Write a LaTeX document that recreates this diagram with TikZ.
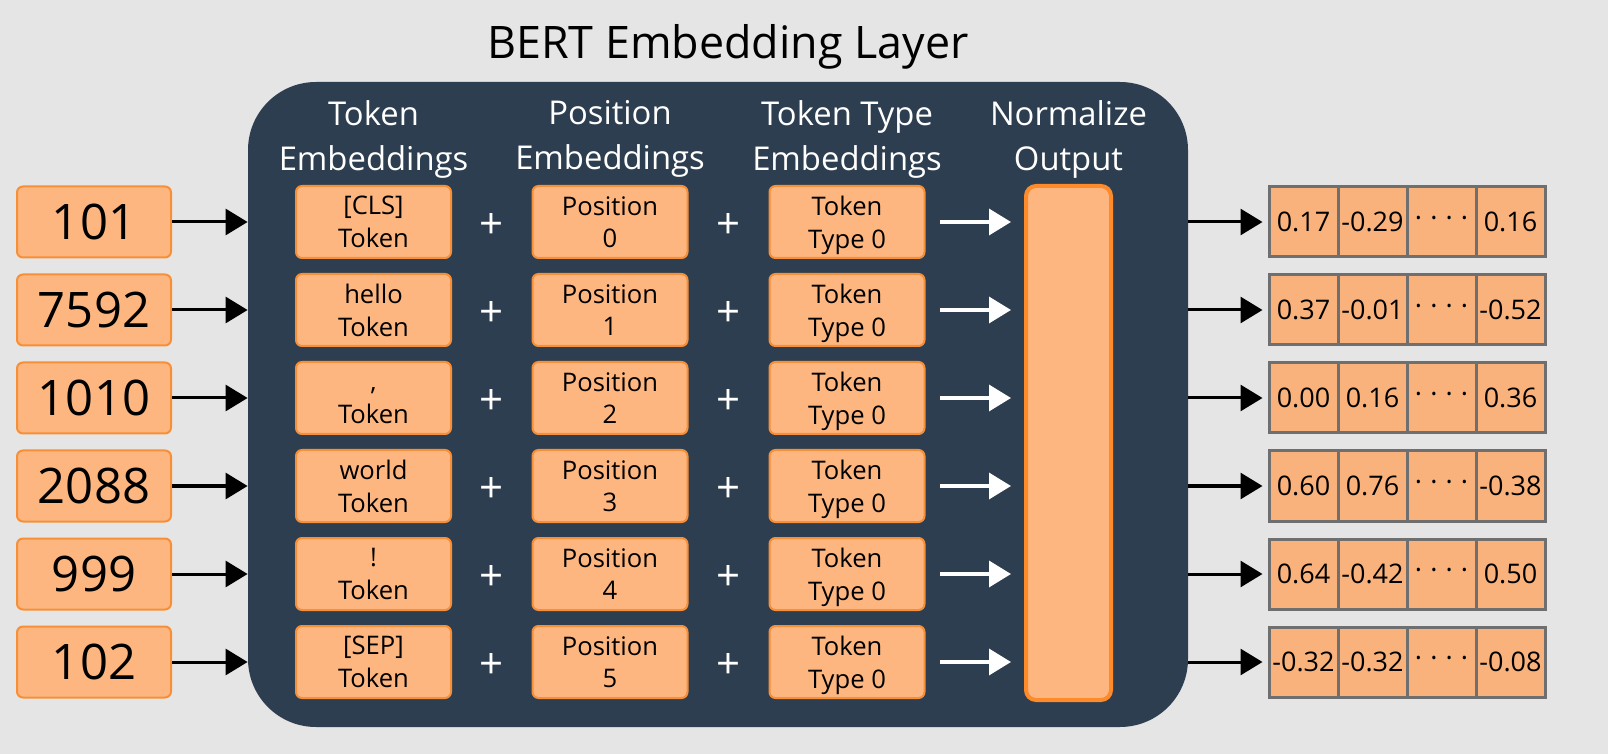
\documentclass[tikz,border=0pt]{standalone}
\usepackage{fontspec}
\setmainfont{Open Sans}
\usetikzlibrary{arrows.meta}
\definecolor{bgcol}{HTML}{E5E5E5}
\definecolor{panelcol}{HTML}{2D3E50}
\definecolor{boxfill}{HTML}{FDB67F}
\definecolor{boxline}{HTML}{F78F38}
\definecolor{normline}{HTML}{FF8A2A}
\definecolor{vecfill}{HTML}{F9B27B}
\definecolor{vecline}{HTML}{6F6F6F}
\tikzset{
  panelbox/.style={fill=panelcol, draw=none, rounded corners=34pt, minimum width=470pt, minimum height=322.5pt, inner sep=0pt},
  numbox/.style={fill=boxfill, draw=boxline, line width=1pt, rounded corners=3pt, minimum width=77pt, minimum height=35.5pt, inner sep=0pt, font=\fontsize{24.5}{28}\selectfont},
  embbox/.style={fill=boxfill, draw=boxline, line width=1pt, rounded corners=3pt, minimum width=77.5pt, minimum height=36pt, inner sep=0pt, align=center, text depth=0pt, font=\fontsize{12.8}{16.3}\selectfont},
  normbox/.style={fill=boxfill, draw=normline, line width=2pt, rounded corners=5pt, minimum width=42.5pt, minimum height=257pt, inner sep=0pt},
  vcell/.style={fill=vecfill, draw=vecline, line width=1.5pt, minimum width=34.5pt, minimum height=35pt, inner sep=0pt, font=\fontsize{13.5}{16}\selectfont},
  header/.style={text=white, align=center, font=\fontsize{16.4}{22.5}\selectfont},
  plussign/.style={text=white, inner sep=0pt, font=\fontsize{21}{24}\selectfont},
  barrow/.style={-{Triangle[length=11pt,width=13pt]}, line width=1.5pt, black},
  warrow/.style={-{Triangle[length=11pt,width=13pt]}, line width=1.75pt, white},
}
\begin{document}
\begin{tikzpicture}[x=0.5pt,y=-0.5pt]
\fill[bgcol] (0,0) rectangle (1608,754);
\useasboundingbox (0,0) rectangle (1608,754);

\node[anchor=base, font=\fontsize{22.4}{26}\selectfont] (title) at (728,59) {BERT Embedding Layer};
\node[panelbox] (layer) at (718,404.5) {};

\node[header] (h1) at (373.5,139) {Token\\Embeddings};
\node[header] (h2) at (610,139) {Position\\Embeddings};
\node[header] (h3) at (847,139) {Token Type\\Embeddings};
\node[header] (h4) at (1068.5,139) {Normalize\\Output};

\node[normbox] (norm) at (1068.5,443) {};

\foreach \i/\num/\tok/\va/\vb/\vd in {
  0/101/{[CLS]}/0.17/-0.29/0.16,
  1/7592/hello/0.37/-0.01/-0.52,
  2/1010/{\vphantom{T},}/0.00/0.16/0.36,
  3/2088/world/0.60/0.76/-0.38,
  4/999/!/0.64/-0.42/0.50,
  5/102/{[SEP]}/-0.32/-0.32/-0.08}
{
  \pgfmathsetmacro\yc{222+88*\i}
  \node[numbox] (in\i) at (94,\yc) {\num};
  \node[embbox] (tok\i) at (373.5,\yc) {\tok\\Token};
  \node[embbox] (pos\i) at (610,\yc) {Position\\\i};
  \node[embbox] (typ\i) at (847,\yc) {Token\\Type 0};
  \node[plussign] (pa\i) at (492,\yc+4) {+};
  \node[plussign] (pb\i) at (728.5,\yc+4) {+};
  \node[vcell] (va\i) at (1303.5,\yc) {\va};
  \node[vcell] (vb\i) at (1372.5,\yc) {\vb};
  \node[vcell] (vc\i) at (1441.5,\yc) {\hbox{·\hspace{0.3em}·\hspace{0.3em}·\hspace{0.3em}·}};
  \node[vcell] (vd\i) at (1510.5,\yc) {\vd};
  \draw[barrow] (in\i.east) -- (in\i.east -| layer.west);
  \draw[warrow, shorten <=7pt, shorten >=6.5pt] (typ\i.east) -- (typ\i.east -| norm.west);
  \draw[barrow, shorten >=2.5pt] (va\i.west -| layer.east) -- (va\i.west);
}
\end{tikzpicture}
\end{document}
